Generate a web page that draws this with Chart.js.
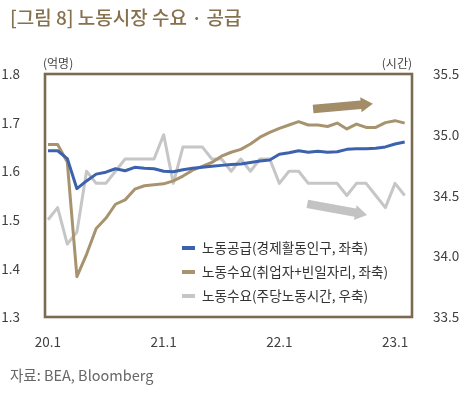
<!DOCTYPE html>
<html>
<head>
<meta charset="utf-8">
<script src="https://cdn.jsdelivr.net/npm/chart.js@4"></script>
<style>
  html, body { margin: 0; padding: 0; background: #fff; }
  #wrap { width: 463px; height: 396px; position: relative; }
</style>
</head>
<body>
<div id="wrap"><canvas id="myChart"></canvas></div>
<script>
// months from 20.1 to 23.2
const months = [
  "20.1", "20.2", "20.3", "20.4", "20.5", "20.6", "20.7", "20.8", "20.9", "20.10", "20.11", "20.12",
  "21.1", "21.2", "21.3", "21.4", "21.5", "21.6", "21.7", "21.8", "21.9", "21.10", "21.11", "21.12",
  "22.1", "22.2", "22.3", "22.4", "22.5", "22.6", "22.7", "22.8", "22.9", "22.10", "22.11", "22.12",
  "23.1", "23.2"
];
const tickIndex = [0, 12, 24, 36];

// 노동공급 (억명, left axis)
const laborSupply = [
  1.642, 1.642, 1.626, 1.564, 1.580, 1.594, 1.598, 1.605, 1.601, 1.608, 1.606, 1.605,
  1.600, 1.599, 1.603, 1.606, 1.608, 1.610, 1.612, 1.614, 1.615, 1.618, 1.621, 1.623,
  1.635, 1.638, 1.642, 1.639, 1.641, 1.639, 1.640, 1.645, 1.646, 1.646, 1.647, 1.650,
  1.656, 1.660
];
// 노동수요 취업자+빈일자리 (억명, left axis)
const laborDemand = [
  1.655, 1.655, 1.619, 1.383, 1.429, 1.482, 1.503, 1.532, 1.541, 1.563, 1.570, 1.572,
  1.574, 1.580, 1.590, 1.602, 1.610, 1.618, 1.631, 1.639, 1.645, 1.656, 1.670, 1.680,
  1.688, 1.695, 1.702, 1.695, 1.695, 1.692, 1.699, 1.687, 1.697, 1.690, 1.690, 1.700,
  1.704, 1.699
];
// 노동수요 주당노동시간 (시간, right axis)
const weeklyHours = [
  34.3, 34.4, 34.1, 34.2, 34.7, 34.6, 34.6, 34.7, 34.8, 34.8, 34.8, 34.8,
  35.0, 34.6, 34.9, 34.9, 34.9, 34.8, 34.8, 34.7, 34.8, 34.7, 34.8, 34.8,
  34.6, 34.7, 34.7, 34.6, 34.6, 34.6, 34.6, 34.5, 34.6, 34.6, 34.5, 34.4,
  34.6, 34.5
];

const seriesNames = [
  "노동공급(경제활동인구, 좌축)",
  "노동수요(취업자+빈일자리, 좌축)",
  "노동수요(주당노동시간, 우축)"
];
const colors = ["#3d62ad", "#a8936f", "#c6c6c6"];

// trend arrows, in data units (month index, left axis value)
const arrows = [
  { from: [27.5, 1.728], to: [33.7, 1.739], color: "#a38d68" },
  { from: [26.9, 1.533], to: [33.1, 1.510], color: "#c3c3c3" }
];

Chart.defaults.font.family = "'Noto Sans CJK KR', 'Noto Sans', sans-serif";
Chart.defaults.color = "#404040";

function toPoints(values) {
  const pts = [];
  for (let i = 0; i < values.length; i++) {
    pts.push({ x: i, y: values[i] });
  }
  return pts;
}

// draws the frame, legend, arrows, title and notes
const decor = {
  id: "decor",
  afterDatasetsDraw(chart) {
    const ctx = chart.ctx;
    const xs = chart.scales.x;
    const ys = chart.scales.y;
    ctx.save();
    arrows.forEach(function (a) {
      const x1 = xs.getPixelForValue(a.from[0]);
      const y1 = ys.getPixelForValue(a.from[1]);
      const x2 = xs.getPixelForValue(a.to[0]);
      const y2 = ys.getPixelForValue(a.to[1]);
      const len = Math.hypot(x2 - x1, y2 - y1);
      const ang = Math.atan2(y2 - y1, x2 - x1);
      const body = 4.2, head = 7.5, headLen = 12;
      ctx.translate(x1, y1);
      ctx.rotate(ang);
      ctx.beginPath();
      ctx.moveTo(0, -body);
      ctx.lineTo(len - headLen, -body);
      ctx.lineTo(len - headLen, -head);
      ctx.lineTo(len, 0);
      ctx.lineTo(len - headLen, head);
      ctx.lineTo(len - headLen, body);
      ctx.lineTo(0, body);
      ctx.closePath();
      ctx.fillStyle = a.color;
      ctx.fill();
      ctx.setTransform(1, 0, 0, 1, 0, 0);
    });
    ctx.restore();
  },
  afterDraw(chart) {
    const ctx = chart.ctx;
    const area = chart.chartArea;
    ctx.save();

    // frame
    ctx.strokeStyle = "#7b6a50";
    ctx.lineWidth = 2.6;
    ctx.strokeRect(area.left, area.top, area.right - area.left, area.bottom - area.top);

    // legend
    ctx.textBaseline = "middle";
    ctx.font = "13.6px 'Noto Sans CJK KR'";
    for (let i = 0; i < seriesNames.length; i++) {
      const y = 248 + i * 24;
      ctx.strokeStyle = colors[i];
      ctx.lineWidth = 4;
      ctx.beginPath();
      ctx.moveTo(182, y);
      ctx.lineTo(195, y);
      ctx.stroke();
      ctx.fillStyle = "#333";
      ctx.fillText(seriesNames[i], 202, y);
    }

    // title
    ctx.font = "500 19px 'Noto Sans CJK KR'";
    ctx.fillStyle = "#86714e";
    ctx.textAlign = "left";
    ctx.fillText("[그림 8] 노동시장 수요 · 공급", 10, 18);

    // unit labels
    ctx.font = "12px 'Noto Sans CJK KR'";
    ctx.fillStyle = "#444";
    ctx.fillText("(억명)", 43, 63);
    ctx.textAlign = "right";
    ctx.fillText("(시간)", area.right, 63);

    // source
    ctx.textAlign = "left";
    ctx.font = "14.5px 'Noto Sans CJK KR'";
    ctx.fillStyle = "#666";
    ctx.fillText("자료: BEA, Bloomberg", 10, 375);
    ctx.restore();
  }
};

const ctx = document.getElementById("myChart");

new Chart(ctx, {
  type: "line",
  data: {
    datasets: [
      {
        label: seriesNames[0],
        data: toPoints(laborSupply),
        borderColor: colors[0],
        yAxisID: "y",
        order: 0
      },
      {
        label: seriesNames[1],
        data: toPoints(laborDemand),
        borderColor: colors[1],
        yAxisID: "y",
        order: 1
      },
      {
        label: seriesNames[2],
        data: toPoints(weeklyHours),
        borderColor: colors[2],
        yAxisID: "y1",
        order: 2
      }
    ]
  },
  options: {
    responsive: true,
    maintainAspectRatio: false,
    animation: false,
    devicePixelRatio: 1,
    layout: { padding: { top: 74, left: 0, right: 0, bottom: 0 } },
    elements: {
      line: { borderWidth: 3, tension: 0, borderJoinStyle: "round" },
      point: { radius: 0 }
    },
    plugins: {
      legend: { display: false },
      tooltip: { enabled: false }
    },
    scales: {
      x: {
        type: "linear",
        min: -0.31,
        max: 37.76,
        grid: { display: false },
        border: { display: false },
        afterBuildTicks: function (s) {
          s.ticks = tickIndex.map(function (v) { return { value: v }; });
        },
        afterFit: function (s) { s.height = 79; },
        ticks: {
          padding: 9,
          maxRotation: 0,
          autoSkip: false,
          font: { size: 13.5 },
          color: "#404040",
          callback: function (v) { return months[v]; }
        }
      },
      y: {
        position: "left",
        min: 1.3,
        max: 1.8,
        grid: { display: false },
        border: { display: false },
        afterFit: function (s) { s.width = 45; },
        ticks: {
          stepSize: 0.1,
          padding: 17,
          font: { size: 13.5 },
          color: "#404040",
          callback: function (v) { return Number(v).toFixed(1); }
        }
      },
      y1: {
        position: "right",
        min: 33.5,
        max: 35.5,
        grid: { display: false },
        border: { display: false },
        afterFit: function (s) { s.width = 51; },
        ticks: {
          stepSize: 0.5,
          padding: 13,
          font: { size: 13.5 },
          color: "#404040",
          callback: function (v) { return Number(v).toFixed(1); }
        }
      }
    }
  },
  plugins: [decor]
});
</script>
</body>
</html>
